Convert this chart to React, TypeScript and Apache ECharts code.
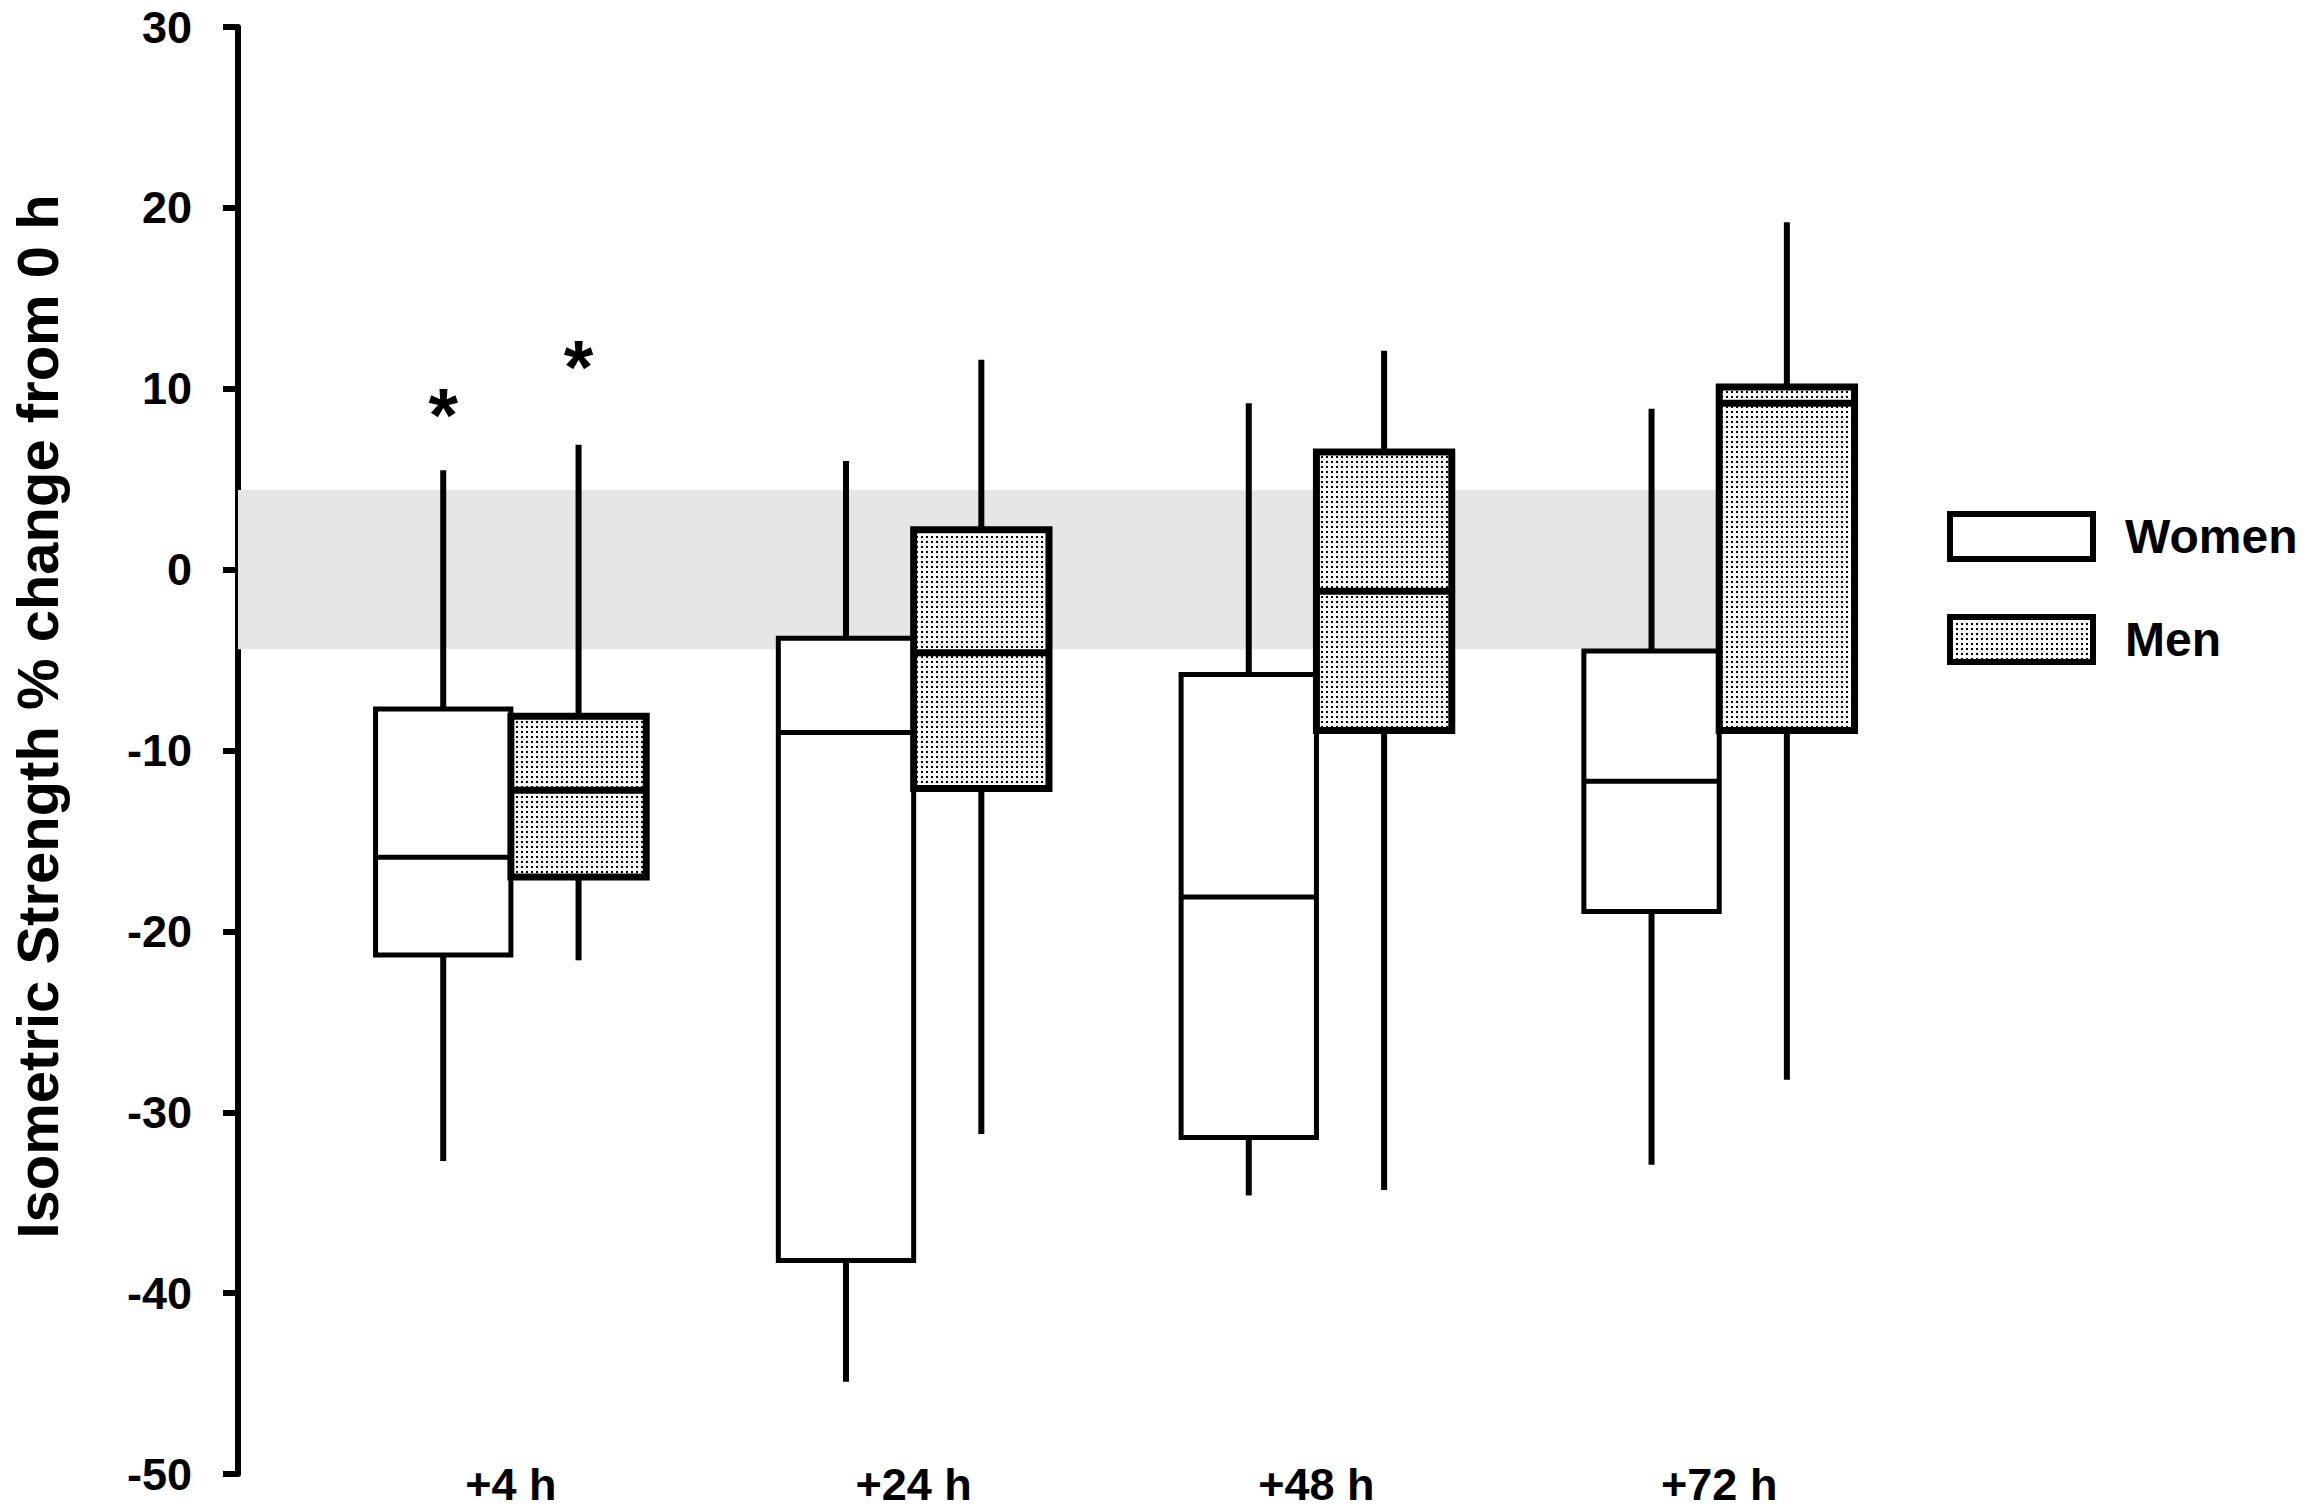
import React, { useEffect, useRef } from "react";
import * as echarts from "echarts";

const FONT = '"Liberation Sans", Arial, Helvetica, sans-serif';

// ---- data ----
const categories = ["+4 h", "+24 h", "+48 h", "+72 h"];
// [min, Q1, median, Q3, max]
const womenStats = [
  [-32.7, -21.3, -15.9, -7.7, 5.5],
  [-44.9, -38.2, -9.0, -3.8, 6.0],
  [-34.6, -31.4, -18.1, -5.8, 9.2],
  [-32.9, -18.9, -11.7, -4.5, 8.9],
];
const menStats = [
  [-21.6, -17.0, -12.2, -8.1, 6.9],
  [-31.2, -12.1, -4.6, 2.2, 11.6],
  [-34.3, -8.9, -1.2, 6.5, 12.1],
  [-28.2, -8.9, 9.2, 10.1, 19.2],
];
// significance markers (value where the asterisk sits), null = none
const sigWomen = [9.0, null, null, null];
const sigMen = [11.7, null, null, null];
// grey reference band (range of the 0 h variation)
const bandRange = [-4.4, 4.4];
const yTicks = { min: -50, max: 30, interval: 10 };

const BOX_FRAC = 0.336;
const Y_OFFSET = 71.5;

function makePattern() {
  const svg =
    "<svg xmlns='http://www.w3.org/2000/svg' width='5' height='5' shape-rendering='crispEdges'>" +
    "<rect width='5' height='5' fill='#ffffff'/>" +
    "<rect x='1' y='1' width='2' height='2' fill='#000000'/></svg>";
  return {
    image: "data:image/svg+xml;charset=utf-8," + encodeURIComponent(svg),
    repeat: "repeat",
    imageWidth: 5,
    imageHeight: 5,
  } as any;
}

export default function App() {
  const ref = useRef<HTMLDivElement>(null);
  useEffect(() => {
    if (!ref.current) return;
    const chart = echarts.init(ref.current, undefined, { renderer: "svg" });
    const pattern = makePattern();

    const boxRender = (side: number, strokeW: number, fill: any) => (params: any, api: any) => {
      const ci = api.value(0);
      const center = api.coord([ci, 0])[0];
      const band = api.size([1, 0])[0];
      const w = band * BOX_FRAC;
      const x0 = side < 0 ? center - w : center;
      const x1 = x0 + w;
      const xm = (x0 + x1) / 2;
      const py = (i: number) => api.coord([ci, api.value(i)])[1];
      const yMin = py(1), yQ1 = py(2), yMed = py(3), yQ3 = py(4), yMax = py(5);
      const ls = { stroke: "#000", lineWidth: 6 };
      return {
        type: "group",
        children: [
          { type: "line", shape: { x1: xm, y1: yMax, x2: xm, y2: yQ3 }, style: ls },
          { type: "line", shape: { x1: xm, y1: yQ1, x2: xm, y2: yMin }, style: ls },
          {
            type: "rect",
            shape: { x: x0, y: yQ3, width: w, height: yQ1 - yQ3 },
            style: { fill, stroke: "#000", lineWidth: strokeW },
          },
          {
            type: "line",
            shape: { x1: x0, y1: yMed, x2: x1, y2: yMed },
            style: { stroke: "#000", lineWidth: strokeW },
          },
        ],
      };
    };

    const sigRender = (side: number) => (params: any, api: any) => {
      const ci = api.value(0);
      const center = api.coord([ci, 0])[0];
      const band = api.size([1, 0])[0];
      const w = band * BOX_FRAC;
      const x = center + side * w / 2;
      const y = api.coord([ci, api.value(1)])[1];
      return {
        type: "text",
        x,
        y: y + 8,
        style: {
          text: "*",
          fill: "#000",
          font: `bold 76px ${FONT}`,
          align: "center",
          verticalAlign: "middle",
        },
      };
    };

    const toData = (stats: number[][]) => stats.map((s, i) => [i, ...s]);
    const toSig = (arr: (number | null)[]) =>
      arr.map((v, i) => (v == null ? null : [i, v])).filter((d) => d != null);

    const option: any = {
      animation: false,
      backgroundColor: "#fff",
      grid: { left: 299.3, right: 386.4, top: 27, bottom: 36, containLabel: false },
      legend: {
        orient: "vertical",
        left: 1947,
        top: 511,
        padding: 0,
        itemWidth: 143,
        itemHeight: 45,
        itemGap: 52,
        selectedMode: false,
        textStyle: {
          fontSize: 48,
          fontWeight: "bold",
          color: "#000",
          fontFamily: FONT,
          lineHeight: 45,
          padding: [0, 0, 0, 27],
        },
        data: [
          { name: "Women", icon: "rect", itemStyle: { color: "#fff", borderColor: "#000", borderWidth: 6 } },
          { name: "Men", icon: "rect", itemStyle: { color: pattern, borderColor: "#000", borderWidth: 6 } },
        ],
      },
      xAxis: {
        type: "category",
        data: categories,
        axisLine: { show: false },
        axisTick: { show: false },
        splitLine: { show: false },
        axisLabel: {
          fontSize: 45,
          fontWeight: "bold",
          color: "#000",
          fontFamily: FONT,
          lineHeight: 34,
          margin: -7,
        },
      },
      yAxis: {
        type: "value",
        min: yTicks.min,
        max: yTicks.max,
        interval: yTicks.interval,
        offset: Y_OFFSET,
        name: "Isometric Strength % change from 0 h",
        nameLocation: "middle",
        nameGap: 172,
        nameRotate: 90,
        nameTextStyle: {
          fontSize: 58,
          fontWeight: "bold",
          color: "#000",
          fontFamily: FONT,
          padding: [0, 0, 0, 68],
        },
        axisLine: { show: true, lineStyle: { color: "#000", width: 6 } },
        axisTick: { show: true, inside: false, length: 15, lineStyle: { color: "#000", width: 6 } },
        splitLine: { show: false },
        axisLabel: {
          fontSize: 45,
          fontWeight: "bold",
          color: "#000",
          fontFamily: FONT,
          lineHeight: 36,
          margin: 46,
        },
      },
      series: [
        {
          type: "custom",
          name: "band",
          z: 1,
          silent: true,
          data: [[0, bandRange[0], bandRange[1]]],
          encode: { x: 0, y: [1, 2] },
          renderItem: (params: any, api: any) => {
            const band = api.size([1, 0])[0];
            const xStart = params.coordSys.x - Y_OFFSET;
            const xEnd = api.coord([categories.length - 1, 0])[0] + band * 0.03;
            const yTop = api.coord([0, api.value(2)])[1];
            const yBot = api.coord([0, api.value(1)])[1];
            return {
              type: "rect",
              shape: { x: xStart, y: yTop, width: xEnd - xStart, height: yBot - yTop },
              style: { fill: "#e6e6e6" },
            };
          },
        },
        {
          type: "custom",
          name: "Women",
          z: 3,
          data: toData(womenStats),
          encode: { x: 0, y: [1, 2, 3, 4, 5] },
          itemStyle: { color: "#fff", borderColor: "#000", borderWidth: 6 },
          renderItem: boxRender(-1, 5, "#fff"),
        },
        {
          type: "custom",
          name: "Men",
          z: 3,
          data: toData(menStats),
          encode: { x: 0, y: [1, 2, 3, 4, 5] },
          itemStyle: { color: pattern, borderColor: "#000", borderWidth: 6 },
          renderItem: boxRender(1, 7, pattern),
        },
        {
          type: "custom",
          name: "sigW",
          z: 4,
          data: toSig(sigWomen),
          encode: { x: 0, y: 1 },
          renderItem: sigRender(-1),
        },
        {
          type: "custom",
          name: "sigM",
          z: 4,
          data: toSig(sigMen),
          encode: { x: 0, y: 1 },
          renderItem: sigRender(1),
        },
      ],
    };
    chart.setOption(option);
    return () => chart.dispose();
  }, []);
  return (
    <div
      ref={ref}
      style={{ position: "absolute", left: 0, top: 0, width: 2307, height: 1510, background: "#fff" }}
    />
  );
}
